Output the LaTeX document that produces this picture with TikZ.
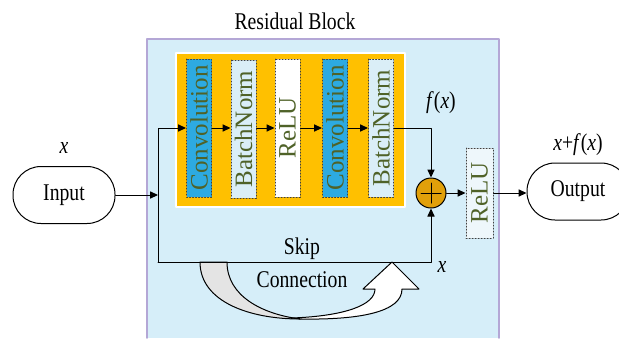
\documentclass[tikz,border=0pt]{standalone}
\usepackage{fontspec}
\setmainfont{Liberation Serif}
\newfontfamily\narrowfont{Liberation Serif}[FakeStretch=0.82]
\usetikzlibrary{arrows.meta,positioning,calc}
\definecolor{resSky}{RGB}{214,238,249}
\definecolor{resFrame}{RGB}{180,167,214}
\definecolor{resOrange}{RGB}{255,192,0}
\definecolor{resConv}{RGB}{45,170,225}
\definecolor{resNorm}{RGB}{218,238,247}
\definecolor{resText}{RGB}{79,98,40}
\definecolor{resGold}{RGB}{225,160,10}
\definecolor{resShade}{RGB}{228,228,228}
\tikzset{
  layerbox/.style={draw=black!75, densely dotted, line width=0.5pt, rotate=90,
    minimum width=69pt, minimum height=12.5pt, inner sep=0pt, text=resText,
    font=\fontsize{12.5}{14}\selectfont},
  termbox/.style={draw, line width=0.5pt, rounded corners=14pt, minimum width=51pt,
    minimum height=28.5pt, font=\narrowfont\fontsize{12}{14}\selectfont},
  lbl/.style={font=\narrowfont\fontsize{12}{14}\selectfont, inner sep=1pt},
  arr/.style={line width=0.5pt, -{Triangle[length=4pt,width=3.6pt]}},
}
\begin{document}
\begin{tikzpicture}[x=0.5pt, y=-0.5pt, line cap=round, line join=round]
    \useasboundingbox (0,0) rectangle (619,338);
    % residual block background
    \fill[resSky] (147,39) rectangle (499,338);
    \draw[resFrame, line width=0.8pt] (147,338) -- (147,39) -- (499,39) -- (499,338);
    \node[lbl] (title) at (295,21) {Residual Block};
    \fill[resOrange] (176,53) rectangle (405,207);
    \draw[white, line width=1.1pt] (176,53) rectangle (405,207);
    % curved skip arrow
    \draw[line width=0.5pt, fill=resShade] (200,262) .. controls (200,302) and (250,319) .. (300,319)
        .. controls (262,314) and (227,296) .. (227,262) -- cycle;
    \draw[line width=0.5pt, fill=white] (292,318) .. controls (345,316) and (375,305) .. (375,289)
        -- (363,289) -- (392,262) -- (419,289) -- (402,289)
        .. controls (402,312) and (360,320) .. (300,319) -- cycle;
    % layers
    \node[layerbox, fill=resConv] (conv1) at (199,128) {Convolution};
    \node[layerbox, fill=resNorm] (bn1) at (243.5,129) {BatchNorm};
    \node[layerbox, fill=white] (relu1) at (287.5,128) {ReLU};
    \node[layerbox, fill=resConv] (conv2) at (335,128) {Convolution};
    \node[layerbox, fill=resNorm] (bn2) at (381,128) {BatchNorm};
    \node[layerbox, fill=resNorm!45!white, minimum width=45pt, minimum height=13.5pt] (relu2) at (479.5,193) {ReLU};
    \node[circle, draw, line width=0.5pt, fill=resGold, minimum size=15pt, inner sep=0pt,
        path picture={
            \draw[line width=0.5pt] ([xshift=-5pt]path picture bounding box.center) -- ++(10pt,0);
            \draw[line width=0.5pt] ([yshift=-5pt]path picture bounding box.center) -- ++(0,10pt);
        }] (plus) at (431,193) {};
    \node[termbox] (input) at (64,195) {Input};
    \node[termbox] (output) at (578,191.5) {Output};
    % labels
    \node[lbl] (xin) at (64,148) {\textit{x}};
    \node[lbl] (fx) at (441,103) {\textit{f}(\textit{x})};
    \node[lbl] (sum) at (578,145) {\textit{x}+\textit{f}(\textit{x})};
    \node[lbl] (skip) at (302,249) {Skip};
    \node[lbl] (conn) at (302,280) {Connection};
    \node[lbl] (xskip) at (442,267) {\textit{x}};
    % connectors (north = left side of the turned boxes)
    \coordinate (split) at (158,195);
    \coordinate (skipL) at (158,262);
    \draw[arr] (input) -- (split);
    \draw[arr] (skipL) |- (conv1.north);
    \draw[arr] (skipL) -| (plus.south);
    \draw[arr] (conv1.south) -- (bn1.north |- conv1.south);
    \draw[arr] (bn1.south |- conv1.south) -- (relu1.north);
    \draw[arr] (relu1.south) -- (conv2.north);
    \draw[arr] (conv2.south) -- (bn2.north);
    \draw[arr] (bn2.south) -| (plus.north);
    \draw[arr] (plus.east) -- (relu2.north);
    \draw[arr] (relu2.south) -- (relu2.south -| output.west);
\end{tikzpicture}
\end{document}
